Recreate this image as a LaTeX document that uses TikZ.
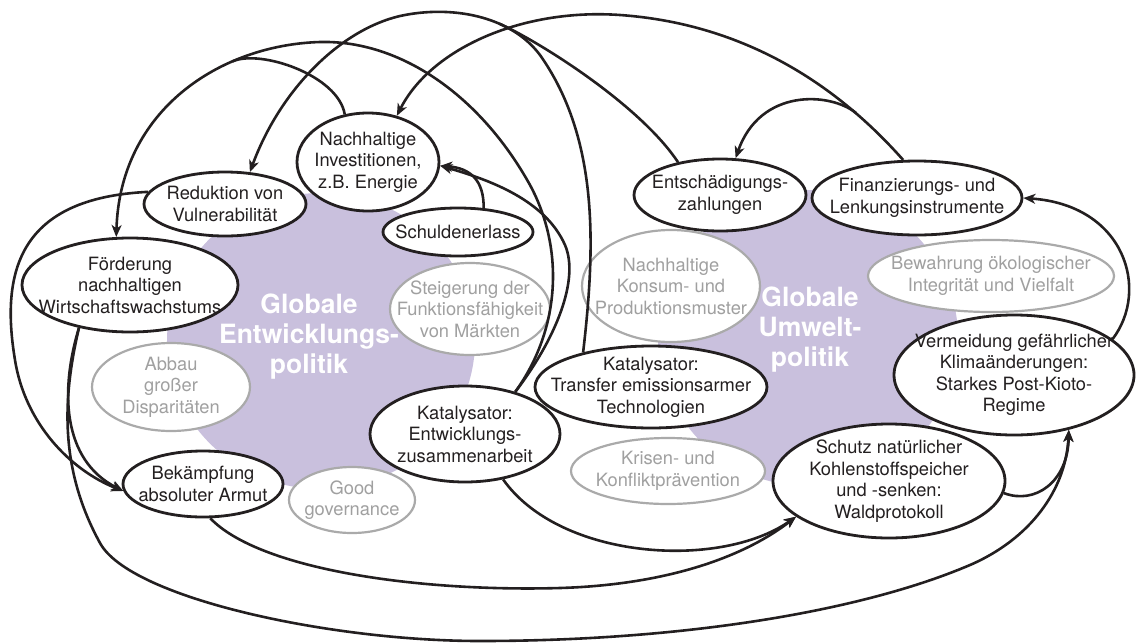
\documentclass[tikz,border=0pt]{standalone}
\usepackage{fontspec}
\setmainfont{TeX Gyre Heros}
\usepackage{tikz}
\usetikzlibrary{arrows.meta,shapes.geometric}
\definecolor{my_black}{RGB}{35,31,32}
\definecolor{my_grey}{RGB}{170,170,170}
\definecolor{my_greytext}{RGB}{160,160,160}
\definecolor{my_lila}{RGB}{201,192,221}
\tikzset{
  zielnode/.style = {ellipse, fill=white, inner sep=0pt},
  ziel_s/.style = {zielnode, draw=my_black, line width=2.8pt},
  ziel_g/.style = {zielnode, draw=my_grey, line width=2.2pt},
  ztext/.style = {align=center, inner sep=0pt, text=my_black, font=\fontsize{18.3}{21.5}\selectfont},
  ztext_g/.style = {ztext, text=my_greytext}
}

\begin{document}
\begin{tikzpicture}[->,>={Stealth[length=12pt,width=10pt,inset=3.5pt]}, x=1pt, y=-1pt,
	pfeil/.style={draw=my_black, line width=2.6pt},
	politik/.style={align=center, text=white, font=\fontsize{26.5}{30}\selectfont\bfseries}]
	\useasboundingbox (0,0) rectangle (1137,643);
	\fill[my_lila] (321,341) ellipse [x radius=154pt, y radius=148pt];
	\fill[my_lila] (808,338) ellipse [x radius=150pt, y radius=148pt];
	\node[politik] (entwpol) at (309,337) {Globale\\Entwicklungs-\\politik};
	\node[politik] (umweltpol) at (810,330) {Globale\\Umwelt-\\politik};

	\node[ziel_s, minimum width=142pt, minimum height=98pt, label={[ztext]center:{Nachhaltige\\Investitionen,\\z.B. Energie}}] (invest) at (368,162) {};
	\node[ziel_s, minimum width=162pt, minimum height=64pt, label={[ztext]center:{Reduktion von\\Vulnerabilität}}] (reduk) at (225,204) {};
	\node[ziel_s, minimum width=150pt, minimum height=48pt, label={[ztext]center:{Schuldenerlass}}] (schuld) at (458,232) {};
	\node[ziel_s, minimum width=216pt, minimum height=94pt, label={[ztext]center:{Förderung\\nachhaltigen\\Wirtschaftswachstums}}] (foerd) at (130,285) {};
	\node[ziel_g, minimum width=160pt, minimum height=92pt, label={[ztext_g]center:{Steigerung der\\Funktionsfähigkeit\\von Märkten}}] (steig) at (470,309) {};
	\node[ziel_g, minimum width=158pt, minimum height=88pt, label={[ztext_g]center:{Abbau\\großer\\Disparitäten}}] (abbau) at (171,387) {};
	\node[ziel_s, minimum width=160pt, minimum height=66pt, label={[ztext]center:{Bekämpfung\\absoluter Armut}}] (bekaempf) at (203,484) {};
	\node[ziel_g, minimum width=126pt, minimum height=66pt, label={[ztext_g]center:{Good\\governance}}] (good) at (352,500) {};
	\node[ziel_s, minimum width=190pt, minimum height=96pt, label={[ztext]center:{Katalysator:\\Entwicklungs-\\zusammenarbeit}}] (katez) at (465,434) {};
	\node[ziel_s, minimum width=232pt, minimum height=82pt, label={[ztext]center:{Katalysator:\\Transfer emissionsarmer\\Technologien}}] (kattech) at (651,387) {};
	\node[ziel_g, minimum width=194pt, minimum height=66pt, label={[ztext_g]center:{Krisen- und\\Konfliktprävention}}] (krisen) at (668,471) {};
	\node[ziel_s, minimum width=232pt, minimum height=114pt, label={[ztext]center:{Schutz natürlicher\\Kohlenstoffspeicher\\und -senken:\\Waldprotokoll}}] (schutz) at (889,481) {};
	\node[ziel_s, minimum width=240pt, minimum height=120pt, label={[ztext]center:{Vermeidung gefährlicher\\Klimaänderungen:\\Starkes Post-Kioto-\\Regime}}] (vermeid) at (1014,375) {};
	\node[ziel_s, minimum width=172pt, minimum height=72pt, label={[ztext]center:{Entschädigungs-\\zahlungen}}] (entsch) at (720,195) {};
	\node[ziel_s, minimum width=210pt, minimum height=74pt, label={[ztext]center:{Finanzierungs- und\\Lenkungsinstrumente}}] (finanz) at (917,198) {};
	\node[ziel_g, minimum width=178pt, minimum height=112pt, label={[ztext_g]center:{Nachhaltige\\Konsum- und\\Produktionsmuster}}] (konsum) at (671,286) {};
	\node[ziel_g, minimum width=246pt, minimum height=72pt, label={[ztext_g]center:{Bewahrung ökologischer\\Integrität und Vielfalt}}] (bewahr) at (991,276) {};

	\coordinate (cmerge) at (232.5,61.4);
	\coordinate (amerge) at (499.2,23.6);
	\coordinate (fmerge) at (856,113);

	\draw[pfeil] (finanz.110) .. controls (850,100) and (760,25) .. (620,15) .. controls (520,8) and (430,50) .. (invest.58);
	\draw[pfeil] (fmerge) .. controls (830,92) and (760,88) .. (entsch.67);
	\draw[pfeil] (vermeid.20) .. controls (1150,290) and (1125,205) .. (finanz.east);
	\draw[pfeil] (schutz.-6) .. controls (1035,505) and (1068,482) .. (vermeid.-45);
	\draw[pfeil] (foerd.220) .. controls (62,400) and (60,470) .. (100,543) .. controls (130,598) and (330,641) .. (480,641) .. controls (680,641) and (860,612) .. (970,565) .. controls (1030,539) and (1066,490) .. (vermeid.-45);
	\draw[pfeil] (foerd.220) .. controls (60,390) and (62,460) .. (bekaempf.185);
	\draw[pfeil] (reduk.171) .. controls (20,198) and (0,270) .. (15,360) .. controls (25,423) and (70,470) .. (bekaempf.185);
	\draw[pfeil] (bekaempf.-78) .. controls (260,570) and (420,592) .. (560,588) .. controls (660,585) and (740,560) .. (schutz.201);
	\draw[pfeil] (katez.-50) .. controls (560,560) and (720,570) .. (schutz.201);
	\draw[pfeil] (katez.40) .. controls (555,340) and (580,280) .. (565,245) .. controls (545,200) and (490,180) .. (invest.-3);
	\draw[pfeil] (schuld.43) .. controls (484,180) and (470,168) .. (invest.-3);
	\draw[pfeil] (katez.40) .. controls (560,330) and (565,250) .. (530,185) .. controls (480,95) and (400,40) .. (320,42) .. controls (220,45) and (120,110) .. (foerd.106);
	\draw[pfeil,-] (invest.116) .. controls (338,75) and (260,49) .. (cmerge);
	\draw[pfeil] (kattech.153) .. controls (595,250) and (600,140) .. (540,55) .. controls (510,15) and (450,5) .. (400,16) .. controls (340,30) and (280,90) .. (reduk.52);
	\draw[pfeil,-] (entsch.142) .. controls (640,105) and (540,42) .. (amerge);
\end{tikzpicture}
\end{document}
